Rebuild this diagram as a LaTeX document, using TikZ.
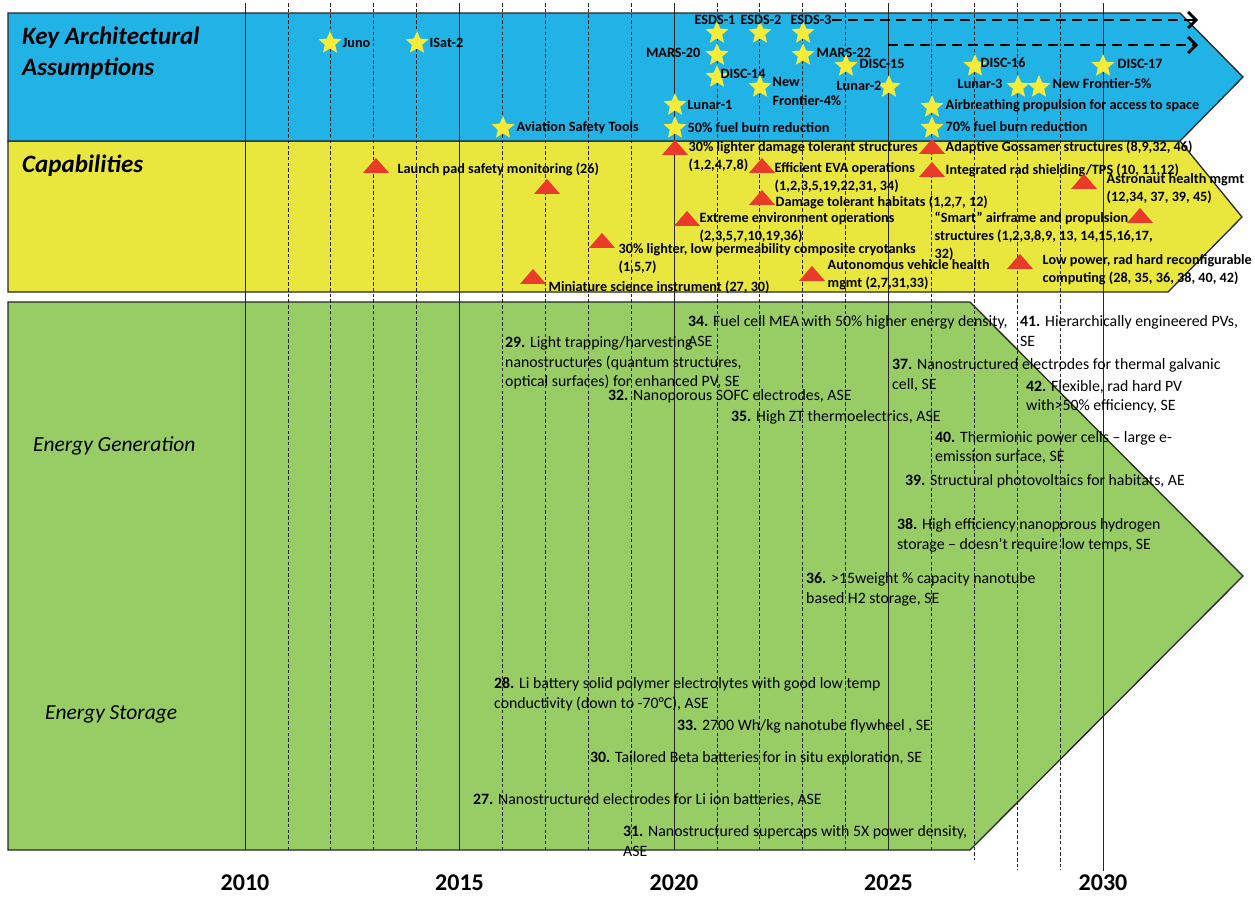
\documentclass[tikz,border=0pt]{standalone}
\usepackage{fontspec}
\setmainfont{Carlito}
\usetikzlibrary{shapes.geometric,arrows.meta,positioning}

\definecolor{kaablue}{RGB}{33,178,230}
\definecolor{capyellow}{RGB}{233,230,61}
\definecolor{engreen}{RGB}{152,204,100}
\definecolor{staryellow}{RGB}{246,236,56}
\definecolor{trired}{RGB}{233,58,42}

\begin{document}
\begin{tikzpicture}[
    x=1pt, y=-1pt,
    band/.style     = {draw=black!85, line width=1.3pt},
    yearline/.style = {line width=0.9pt, black!85},
    dashline/.style = {line width=0.8pt, black!85, dash pattern=on 3.5pt off 2.2pt},
    astar/.style    = {star, star points=5, star point ratio=2.2, fill=staryellow, inner sep=0pt, minimum size=24pt},
    tri/.style      = {isosceles triangle, isosceles triangle apex angle=82, isosceles triangle stretches,
                       shape border rotate=90, fill=trired, inner sep=0pt, minimum width=26pt, minimum height=15pt},
    alab/.style     = {font=\fontsize{14.2}{19}\selectfont\bfseries, inner sep=0.5pt, align=left},
    clab/.style     = {font=\fontsize{14.2}{18}\selectfont\bfseries, inner sep=0.5pt, align=left, anchor=west},
    glab/.style     = {font=\fontsize{15.8}{19.5}\selectfont, inner sep=0pt, align=left, anchor=west},
    head/.style     = {font=\fontsize{25}{31}\selectfont\bfseries\itshape, align=left, anchor=west, inner sep=0pt},
    side/.style     = {font=\fontsize{21.5}{24}\selectfont\itshape, anchor=west, inner sep=0pt},
    year/.style     = {font=\fontsize{24}{26}\selectfont\bfseries},
    plan/.style     = {line width=2.8pt, dash pattern=on 10pt off 6pt, -{Straight Barb[length=8pt,width=16pt]}},
]
\useasboundingbox (0,0) rectangle (1255,905);

% the three bands
\draw[band, fill=engreen] (8,302) -- (970,302) -- (1243,576) -- (970,850) -- (8,850) -- cycle;
\draw[band, fill=capyellow] (8,141) -- (1180,141) -- (1242,217) -- (1168,292) -- (8,292) -- cycle;
\draw[band, fill=kaablue] (8,13) -- (1180,13) -- (1243,77) -- (1180,141) -- (8,141) -- cycle;

% year grid
\foreach \i in {0,5,10,15}
    \draw[yearline] (245+42.9*\i,3) -- (245+42.9*\i,850);
\draw[yearline] (1103,3) -- (1103,871);
\foreach \i/\e in {1/850,2/850,3/850,4/850,6/850,7/850,8/850,9/850,11/850,12/850,13/850,14/850,16/850,17/860,18/870,19/870}
    \draw[dashline] (245+42.9*\i,3) -- (245+42.9*\i,\e);
\foreach \i/\yr in {0/2010,5/2015,10/2020,15/2025,20/2030}
    \node[year] (y\yr) at (245+42.9*\i,883) {\yr};

% band titles
\node[head] (kaa) at (22,53) {Key Architectural\\Assumptions};
\node[head] (cap) at (22,166) {Capabilities};
\node[side] (egen) at (33,446) {Energy Generation};
\node[side] (esto) at (45,714) {Energy Storage};

% key architectural assumptions
\node[astar] (juno) at (330,43) {};
\node[alab, right=12pt of juno.center] (juno-l) {Juno};
\node[astar] (isat) at (417,43) {};
\node[alab, right=12pt of isat.center] (isat-l) {ISat-2};
\node[astar] (avst) at (503,128) {};
\node[alab, right=13pt of avst.center] (avst-l) {Aviation Safety Tools};
\node[astar] (lun1) at (675,105) {};
\node[alab, right=12pt of lun1.center] (lun1-l) {Lunar-1};
\node[astar] (fb50) at (675,128) {};
\node[alab, right=12pt of fb50.center] (fb50-l) {50\% fuel burn reduction};
\node[astar] (esds1) at (717,33) {};
\node[alab] (esds1-l) at (715,20) {ESDS-1};
\node[astar] (esds2) at (760,33) {};
\node[alab] (esds2-l) at (761,20) {ESDS-2};
\node[astar] (esds3) at (803,33) {};
\node[alab] (esds3-l) at (811,20) {ESDS-3};
\node[astar] (mars20) at (717,55) {};
\node[alab, left=16pt of mars20.center, yshift=2pt] (mars20-l) {MARS-20};
\node[astar] (mars22) at (803,55) {};
\node[alab, right=13pt of mars22.center, yshift=2pt] (mars22-l) {MARS-22};
\node[astar] (disc14) at (717,77) {};
\node[alab, right=3pt of disc14.center, yshift=3pt] (disc14-l) {DISC-14};
\node[astar] (nf4) at (760,87) {};
\node[alab, right=12pt of nf4.center, yshift=-4.5pt] (nf4-l) {New\\Frontier-4\%};
\node[astar] (disc15) at (846,66) {};
\node[alab, right=13pt of disc15.center, yshift=2pt] (disc15-l) {DISC-15};
\node[astar] (lun2) at (889,87) {};
\node[alab, left=7pt of lun2.center, yshift=1pt] (lun2-l) {Lunar-2};
\node[astar] (disc16) at (975,66) {};
\node[alab, right=5pt of disc16.center, yshift=3pt] (disc16-l) {DISC-16};
\node[astar] (lun3) at (1018,87) {};
\node[alab, left=15pt of lun3.center, yshift=3pt] (lun3-l) {Lunar-3};
\node[astar] (nf5) at (1039,87) {};
\node[alab, right=13pt of nf5.center, yshift=3pt] (nf5-l) {New Frontier-5\%};
\node[astar] (disc17) at (1103,66) {};
\node[alab, right=14pt of disc17.center, yshift=2pt] (disc17-l) {DISC-17};
\node[astar] (airb) at (932,107) {};
\node[alab, right=13pt of airb.center, yshift=1pt] (airb-l) {Airbreathing propulsion for access to space};
\node[astar] (fb70) at (932,128) {};
\node[alab, right=13pt of fb70.center, yshift=1pt] (fb70-l) {70\% fuel burn reduction};

\coordinate (p1) at (1198,22);
\coordinate (p2s) at (888,45);
\coordinate (p2e) at (1198,45);
\draw[plan] (esds3-l.east) -- (esds3-l.east -| p1);
\draw[plan] (p2s) -- (p2e);

% capabilities
\node[tri] (t-pad) at (376,167) {};
\node[clab] (c-pad) at (397,169) {Launch pad safety monitoring (26)};
\node[tri] (t-x) at (547,188) {};
\node[tri] (t-cryo) at (602,242) {};
\node[clab] (c-cryo) at (618,259) {30\% lighter, low permeability composite cryotanks\\(1,5,7)};
\node[tri] (t-mini) at (533,278) {};
\node[clab] (c-mini) at (548,287) {Miniature science instrument (27, 30)};
\node[tri] (t-dts) at (675,149) {};
\node[clab] (c-dts) at (688,157) {30\% lighter damage tolerant structures\\(1,2,4,7,8)};
\node[tri] (t-ext) at (687,220) {};
\node[clab] (c-ext) at (699,227.5) {Extreme environment operations\\(2,3,5,7,10,19,36)};
\node[tri] (t-eva) at (762,167) {};
\node[clab] (c-eva) at (774,178) {Efficient EVA operations\\(1,2,3,5,19,22,31, 34)};
\node[tri] (t-hab) at (762,199) {};
\node[clab] (c-hab) at (775,202) {Damage tolerant habitats (1,2,7, 12)};
\node[tri] (t-auto) at (812,275) {};
\node[clab] (c-auto) at (827,275) {Autonomous vehicle health\\mgmt (2,7,31,33)};
\node[tri] (t-goss) at (932,148) {};
\node[clab] (c-goss) at (945,147) {Adaptive Gossamer structures (8,9,32, 46)};
\node[tri] (t-rad) at (932,171) {};
\node[clab] (c-rad) at (945,170) {Integrated rad shielding/TPS (10, 11,12)};
\node[tri] (t-astro) at (1084,183) {};
\node[clab] (c-astro) at (1106,189) {Astronaut health mgmt\\(12,34, 37, 39, 45)};
\node[tri] (t-smart) at (1140,217) {};
\node[clab] (c-smart) at (934,236) {“Smart” airframe and propulsion\\structures (1,2,3,8,9, 13, 14,15,16,17,\\32)};
\node[tri] (t-low) at (1020,263) {};
\node[clab] (c-low) at (1042,270) {Low power, rad hard reconfigurable\\computing (28, 35, 36, 38, 40, 42)};

% energy generation
\node[glab] (g34) at (688,331) {\textbf{34.} Fuel cell MEA with 50\% higher energy density,\\ASE};
\node[glab] (g29) at (505,363) {\textbf{29.} Light trapping/harvesting\\nanostructures (quantum structures,\\optical surfaces) for enhanced PV, SE};
\node[glab] (g32) at (608,396) {\textbf{32.} Nanoporous SOFC electrodes, ASE};
\node[glab] (g35) at (731,417) {\textbf{35.} High ZT thermoelectrics, ASE};
\node[glab] (g37) at (892,375) {\textbf{37.} Nanostructured electrodes for thermal galvanic\\cell, SE};
\node[glab] (g41) at (1020,331) {\textbf{41.} Hierarchically engineered PVs,\\SE};
\node[glab] (g42) at (1026,397) {\textbf{42.} Flexible, rad hard PV\\with>50\% efficiency, SE};
\node[glab] (g40) at (935,447.5) {\textbf{40.} Thermionic power cells – large e-\\emission surface, SE};
\node[glab] (g39) at (905,481) {\textbf{39.} Structural photovoltaics for habitats, AE};
\node[glab] (g38) at (897,535.5) {\textbf{38.} High efficiency nanoporous hydrogen\\storage – doesn’t require low temps, SE};
\node[glab] (g36) at (806,589.5) {\textbf{36.} >15weight \% capacity nanotube\\based H2 storage, SE};

% energy storage
\node[glab] (g28) at (494,694.5) {\textbf{28.} Li battery solid polymer electrolytes with good low temp\\conductivity (down to -70°C), ASE};
\node[glab] (g33) at (677,726) {\textbf{33.} 2700 Wh/kg nanotube flywheel , SE};
\node[glab] (g30) at (590,758) {\textbf{30.} Tailored Beta batteries for in situ exploration, SE};
\node[glab] (g27) at (473,800) {\textbf{27.} Nanostructured electrodes for Li ion batteries, ASE};
\node[glab] (g31) at (623,841) {\textbf{31.} Nanostructured supercaps with 5X power density,\\ASE};
\end{tikzpicture}
\end{document}
